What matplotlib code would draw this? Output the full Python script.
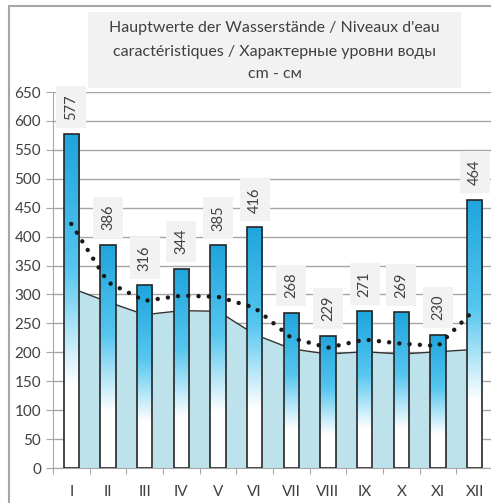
import numpy as np
import matplotlib
matplotlib.use("Agg")
import matplotlib.pyplot as plt
from matplotlib.colors import LinearSegmentedColormap
from matplotlib.patches import Rectangle

plt.rcParams["font.family"] = ["Lato", "DejaVu Sans"]

months = ["I", "II", "III", "IV", "V", "VI", "VII", "VIII", "IX", "X", "XI", "XII"]
max_level = [577, 386, 316, 344, 385, 416, 268, 229, 271, 269, 230, 464]
mean_level = [311, 287, 265, 272, 271, 231, 206, 197, 201, 197, 201, 205]
trend_level = [422, 321, 289, 298, 296, 277, 225, 208, 222, 215, 211, 274]
y_ticks = list(range(0, 651, 50))

title_lines = [
    "Hauptwerte der Wasserstände / Niveaux d'eau",
    "caractéristiques / Характерные уровни воды",
    "cm - см",
]

txt = "#404040"
grid_c = "#a6a6a6"

fig = plt.figure(figsize=(4.91, 5.03), dpi=100)
ax = fig.add_axes([53 / 491, 1 - 468 / 503, 440 / 491, (468 - 92) / 503])

x = np.arange(len(months))

# grid behind everything
ax.set_axisbelow(True)
ax.yaxis.grid(True, color=grid_c, lw=1, zorder=0)

# mean water level as area
ax.fill_between(x, mean_level, 0, color="#bde2eb", lw=0, zorder=1)
ax.plot(x, mean_level, color="#333333", lw=1, zorder=1.5)

# bars with blue-to-white gradient
bars = ax.bar(x, max_level, width=0.41, facecolor="none", edgecolor="#262626",
              lw=1.2, zorder=3)
cmap = LinearSegmentedColormap.from_list(
    "water", [(0, "#ffffff"), (0.25, "#ffffff"), (0.6, "#55c6ef"), (1, "#1fa5dd")])
grad = np.linspace(0, 1, 256).reshape(-1, 1)
for b in bars:
    bx, bw, bh = b.get_x(), b.get_width(), b.get_height()
    im = ax.imshow(grad, cmap=cmap, extent=[bx, bx + bw, 0, bh], origin="lower",
                   aspect="auto", zorder=2)
    im.set_clip_path(b)

# dotted line
ax.plot(x, trend_level, color="#1a1a1a", lw=3.2, linestyle=(0, (0.01, 2.3)),
        dash_capstyle="round", zorder=4)

# value labels
for xi, v in zip(x, max_level):
    ax.annotate(str(v), (xi, v), xytext=(0, 10.5), textcoords="offset points",
                rotation=90, ha="center", va="bottom", fontsize=10.5, color=txt,
                bbox=dict(boxstyle="square,pad=0.55", fc="#f2f2f2", ec="none"),
                zorder=5)

ax.set_xlim(-0.5, len(months) - 0.5)
ax.set_ylim(0, 650)
ax.set_yticks(y_ticks)
ax.tick_params(axis="y", labelsize=11, colors=grid_c, labelcolor=txt, length=5)
ax.set_xticks(np.arange(len(months) + 1) - 0.5)
ax.set_xticklabels([])
ax.set_xticks(x, minor=True)
ax.set_xticklabels(months, minor=True)
ax.tick_params(axis="x", which="major", colors=grid_c, length=4)
ax.tick_params(axis="x", which="minor", length=0, labelsize=11, labelcolor=txt, pad=12)

for s in ["top", "right"]:
    ax.spines[s].set_visible(False)
for s in ["left", "bottom"]:
    ax.spines[s].set_color(grid_c)

# title box and outer frame
fig.patches.append(Rectangle((88 / 491, 1 - 88 / 503), 373 / 491, 76 / 503,
                             transform=fig.transFigure, fc="#f2f2f2", ec="none"))
fig.patches.append(Rectangle((9 / 491, -0.1), 1.2, 1 - 6 / 503 + 0.1,
                             transform=fig.transFigure, fc="none", ec="#a6a6a6", lw=1.5))
for yy, line in zip([28, 52, 74], title_lines):
    fig.text(274.5 / 491, 1 - yy / 503, line, ha="center", va="center",
             fontsize=11.5, color=txt)

fig.savefig("out.png", dpi=100)
